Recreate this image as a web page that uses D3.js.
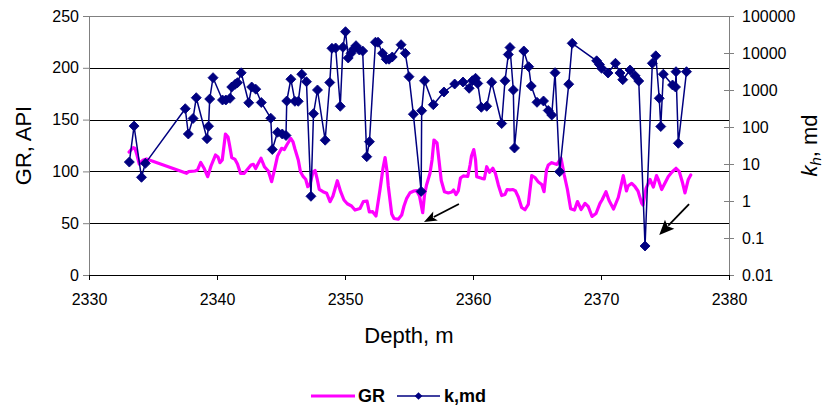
<!DOCTYPE html>
<html>
<head>
<meta charset="utf-8">
<script src="https://cdn.jsdelivr.net/npm/d3@7"></script>
<style>
  body { margin: 0; background: #fff; }
  svg { display: block; font-family: "Liberation Sans", Arial, sans-serif; }
</style>
</head>
<body>
<svg id="chart" width="836" height="408"></svg>
<script>
// Core permeability samples: depth (m) and horizontal permeability (md)
const kDepth = [
  2333.15, 2333.52, 2334.10, 2334.40, 2337.52, 2337.76, 2338.13, 2338.38, 2339.22, 2339.34,
  2339.43, 2339.69, 2340.43, 2340.69, 2341.02, 2341.15, 2341.42, 2341.60, 2341.89, 2342.48,
  2342.71, 2343.03, 2343.46, 2344.20, 2344.32, 2344.73, 2345.10, 2345.39, 2345.45, 2345.77,
  2346.09, 2346.35, 2346.62, 2346.99, 2347.34, 2347.54, 2347.85, 2348.45, 2348.81, 2348.98,
  2349.27, 2349.63, 2349.84, 2350.04, 2350.25, 2350.47, 2350.65, 2350.86, 2351.12, 2351.38,
  2351.70, 2351.91, 2352.38, 2352.58, 2352.93, 2353.22, 2353.44, 2353.69, 2354.38, 2354.71,
  2355.00, 2355.34, 2355.95, 2355.99, 2356.21, 2356.90, 2357.73, 2358.57, 2359.22, 2359.70,
  2359.95, 2360.20, 2360.37, 2360.65, 2361.07, 2361.46, 2362.24, 2362.50, 2362.76, 2362.89,
  2363.15, 2363.24, 2363.97, 2364.35, 2364.55, 2365.00, 2365.51, 2365.88, 2366.15, 2366.41,
  2366.77, 2367.48, 2367.75, 2369.66, 2369.88, 2370.05, 2370.55, 2371.13, 2371.48, 2371.70,
  2372.27, 2372.66, 2372.95, 2373.44, 2374.01, 2374.28, 2374.55, 2374.67, 2374.87, 2375.59,
  2375.82, 2375.86, 2376.04, 2376.68
];
const kValue = [
  11.3, 106, 4.37, 10.4, 312, 64.7, 170, 619, 48.3, 105,
  571, 2150, 537, 537, 597, 1205, 1426, 1575, 2917, 451,
  1205, 1051, 459, 173, 24.7, 71.9, 64.7, 58.9, 504, 1959,
  495, 495, 2673, 1676, 1.34, 229, 1000, 44, 1595, 13400,
  13650, 363, 14260, 37660, 7330, 9820, 12590, 15750, 12050, 11330,
  15.8, 40.1, 19590, 19590, 9820, 6800, 6800, 7800, 16760, 9820,
  2290, 222, 1.82, 276, 1773, 401, 883, 1452, 1645, 1112,
  1784, 2072, 1500, 341, 363, 1625, 124, 1773, 9100, 14080,
  1000, 27.1, 11330, 4265, 1282, 465, 504, 279, 211, 2935,
  6.19, 1435, 18290, 6150, 4890, 3857, 2880, 5270, 2880, 1898,
  3473, 2420, 1750, 0.0608, 5270, 8400, 597, 103, 2673, 1365,
  1205, 3124, 36.3, 3124
];

// Gamma-ray log: depth (m) and GR (API)
const grDepth = [
  2333.13, 2333.28, 2333.46, 2333.59, 2333.75, 2333.93, 2334.06, 2334.24, 2334.49, 2337.62,
  2337.77, 2338.28, 2338.48, 2338.73, 2338.98, 2339.27, 2339.53, 2339.88, 2340.08, 2340.23,
  2340.41, 2340.66, 2340.86, 2340.98, 2341.15, 2341.41, 2341.60, 2341.84, 2342.11, 2342.45,
  2342.66, 2342.84, 2343.02, 2343.20, 2343.44, 2343.71, 2344.01, 2344.27, 2344.49, 2344.73,
  2345.05, 2345.26, 2345.45, 2345.76, 2345.94, 2346.09, 2346.35, 2346.52, 2346.74, 2346.93,
  2347.09, 2347.27, 2347.50, 2347.66, 2347.81, 2347.99, 2348.28, 2348.57, 2348.83, 2349.06,
  2349.40, 2349.66, 2349.92, 2350.18, 2350.51, 2350.78, 2351.17, 2351.43, 2351.72, 2351.90,
  2352.16, 2352.42, 2352.73, 2352.97, 2353.13, 2353.27, 2353.38, 2353.65, 2353.83, 2354.16,
  2354.43, 2354.61, 2354.82, 2355.08, 2355.34, 2355.60, 2355.82, 2356.07, 2356.21, 2356.37,
  2356.64, 2356.80, 2356.95, 2357.19, 2357.34, 2357.52, 2357.77, 2358.07, 2358.34, 2358.48,
  2358.67, 2358.85, 2359.02, 2359.24, 2359.59, 2359.77, 2359.88, 2360.06, 2360.20, 2360.29,
  2360.68, 2360.88, 2361.07, 2361.29, 2361.55, 2361.74, 2361.98, 2362.24, 2362.50, 2362.66,
  2362.89, 2363.13, 2363.32, 2363.54, 2363.80, 2364.06, 2364.32, 2364.45, 2364.59, 2364.84,
  2365.08, 2365.37, 2365.55, 2365.74, 2365.88, 2366.15, 2366.33, 2366.56, 2366.88, 2367.13,
  2367.37, 2367.63, 2367.93, 2368.16, 2368.45, 2368.75, 2369.01, 2369.30, 2369.61, 2369.92,
  2370.08, 2370.39, 2370.63, 2370.98, 2371.35, 2371.56, 2371.74, 2371.99, 2372.11, 2372.40,
  2372.66, 2372.89, 2373.18, 2373.28, 2373.52, 2373.83, 2374.09, 2374.34, 2374.49, 2374.74,
  2374.96, 2375.26, 2375.55, 2375.86, 2376.12, 2376.38, 2376.56, 2376.82, 2377.01
];
const grValue = [
  118.7, 120.7, 122.9, 122.3, 115.8, 107.1, 109.1, 111.0, 112.0, 98.2,
  99.7, 100.4, 101.4, 108.6, 103.3, 94.9, 105.2, 115.8, 113.9, 108.4,
  111.0, 136.1, 133.2, 125.5, 113.4, 111.5, 107.1, 98.0, 98.0, 103.0,
  106.2, 106.9, 102.8, 107.1, 112.7, 104.3, 100.4, 90.1, 101.4, 114.9,
  122.3, 121.1, 125.5, 131.8, 128.4, 121.6, 111.0, 99.7, 94.9, 92.4,
  85.2, 87.8, 99.4, 100.9, 93.6, 82.7, 80.4, 78.9, 70.8, 76.3,
  91.0, 80.4, 72.4, 68.8, 66.6, 62.7, 64.2, 70.8, 71.4, 60.8,
  61.1, 57.0, 82.1, 103.3, 113.4, 101.4, 85.9, 58.9, 54.5, 53.8,
  57.9, 66.6, 74.0, 79.4, 80.9, 81.4, 76.3, 60.1, 77.2, 86.9,
  98.2, 111.0, 130.3, 127.4, 111.0, 91.2, 80.4, 79.2, 80.1, 82.1,
  77.7, 81.1, 93.6, 95.6, 95.1, 106.2, 114.9, 121.1, 111.0, 94.9,
  93.3, 92.7, 104.5, 99.1, 103.0, 98.5, 86.9, 76.7, 77.7, 82.5,
  82.1, 82.5, 81.1, 75.3, 65.2, 63.0, 68.1, 82.1, 96.0, 94.1,
  90.1, 87.4, 80.4, 101.4, 106.2, 108.4, 107.6, 106.7, 112.7, 96.5,
  83.0, 64.0, 62.7, 70.9, 63.2, 69.2, 65.9, 56.5, 59.4, 69.2,
  72.4, 80.4, 71.9, 63.7, 74.8, 85.9, 96.0, 81.1, 85.9, 88.5,
  85.2, 81.1, 69.2, 67.6, 83.7, 92.2, 84.9, 96.0, 91.7, 82.5,
  87.8, 95.1, 99.4, 103.0, 99.7, 88.5, 79.2, 92.2, 96.5
];

// Axis ticks
const depthTicks = [2330, 2340, 2350, 2360, 2370, 2380];
const grTicks = [0, 50, 100, 150, 200, 250];
const kTicks = [0.01, 0.1, 1, 10, 100, 1000, 10000, 100000];
const kTickLabels = ["0.01", "0.1", "1", "10", "100", "1000", "10000", "100000"];

// Annotation arrows pointing at the low-permeability samples (depth, GR units)
const arrowFrom = [[2358.9, 68.5], [2376.88, 68.5]];
const arrowTo = [[2356.17, 51.2], [2374.55, 38.6]];

const GR_COLOR = "#ff00ff";
const K_COLOR = "#000080";

const svg = d3.select("#chart");
const plot = { left: 89, right: 729, top: 16, bottom: 275 };

const x = d3.scaleLinear().domain([2330, 2380]).range([plot.left, plot.right]);
const yL = d3.scaleLinear().domain([0, 250]).range([plot.bottom, plot.top]);
const yR = d3.scaleLog().domain([0.01, 100000]).range([plot.bottom, plot.top]);

// Horizontal gridlines at the GR ticks
svg.append("g")
  .selectAll("line")
  .data(grTicks)
  .join("line")
  .attr("x1", plot.left)
  .attr("x2", plot.right)
  .attr("y1", d => Math.round(yL(d)) + 0.5)
  .attr("y2", d => Math.round(yL(d)) + 0.5)
  .attr("stroke", d => d === 250 ? "#808080" : "#000")
  .attr("stroke-width", 1);

// Left axis (GR)
const leftAxis = svg.append("g")
  .attr("transform", `translate(${plot.left},0)`)
  .call(d3.axisLeft(yL).tickValues(grTicks).tickSize(6).tickPadding(4));
leftAxis.select(".domain").attr("stroke", "#808080");
leftAxis.selectAll(".tick line").attr("stroke", "#808080");
leftAxis.selectAll(".tick text")
  .attr("font-size", 16).attr("fill", "#000")
  .style("font-family", '"Liberation Sans", Arial, sans-serif');

// Right axis (permeability, log scale)
const rightAxis = svg.append("g")
  .attr("transform", `translate(${plot.right},0)`)
  .call(d3.axisRight(yR).tickValues(kTicks).tickFormat((d, i) => kTickLabels[i]).tickSize(5).tickPadding(8));
rightAxis.select(".domain").attr("stroke", "#808080");
rightAxis.selectAll(".tick line").attr("x1", -5).attr("stroke", "#808080");
rightAxis.selectAll(".tick text")
  .attr("font-size", 16).attr("fill", "#000")
  .style("font-family", '"Liberation Sans", Arial, sans-serif');

// Bottom axis (depth)
const bottomAxis = svg.append("g")
  .attr("transform", `translate(0,${plot.bottom})`)
  .call(d3.axisBottom(x).tickValues(depthTicks).tickFormat(d3.format("d")).tickSize(5).tickPadding(14));
bottomAxis.select(".domain").attr("stroke", "#000");
bottomAxis.selectAll(".tick line").attr("stroke", "#000");
bottomAxis.selectAll(".tick text")
  .attr("font-size", 16).attr("fill", "#000")
  .style("font-family", '"Liberation Sans", Arial, sans-serif');

// GR curve
const grLine = d3.line()
  .x((d, i) => x(grDepth[i]))
  .y((d, i) => yL(grValue[i]));
svg.append("path")
  .datum(grValue)
  .attr("d", grLine)
  .attr("fill", "none")
  .attr("stroke", GR_COLOR)
  .attr("stroke-width", 3.2)
  .attr("stroke-linejoin", "round")
  .attr("stroke-linecap", "round");

// Permeability series: line with diamond markers
const kLine = d3.line()
  .x((d, i) => x(kDepth[i]))
  .y((d, i) => yR(kValue[i]));
svg.append("path")
  .datum(kValue)
  .attr("d", kLine)
  .attr("fill", "none")
  .attr("stroke", K_COLOR)
  .attr("stroke-width", 1.5)
  .attr("stroke-linejoin", "round");

const diamond = d3.symbol().type(d3.symbolSquare).size(50);
svg.append("g")
  .selectAll("path")
  .data(kValue)
  .join("path")
  .attr("d", diamond)
  .attr("transform", (d, i) => `translate(${x(kDepth[i])},${yR(d)}) rotate(45)`)
  .attr("fill", K_COLOR)
  .attr("stroke", K_COLOR)
  .attr("stroke-width", 0.8);

// Arrows
arrowFrom.forEach((f, i) => {
  const t = arrowTo[i];
  const x0 = x(f[0]), y0 = yL(f[1]);
  const x1 = x(t[0]), y1 = yL(t[1]);
  const dx = x1 - x0, dy = y1 - y0;
  const len = Math.hypot(dx, dy);
  const ux = dx / len, uy = dy / len;
  const headLen = i === 0 ? 13 : 15;
  const headHalf = i === 0 ? 5 : 6.5;
  const bx = x1 - ux * headLen, by = y1 - uy * headLen;
  svg.append("line")
    .attr("x1", x0).attr("y1", y0)
    .attr("x2", bx + ux * 2).attr("y2", by + uy * 2)
    .attr("stroke", "#000").attr("stroke-width", 1.8);
  svg.append("path")
    .attr("d", `M${x1},${y1}L${bx - uy * headHalf},${by + ux * headHalf}L${bx + ux * 3},${by + uy * 3}L${bx + uy * headHalf},${by - ux * headHalf}Z`)
    .attr("fill", "#000");
});

// Axis titles
svg.append("text")
  .attr("transform", `translate(31,${(plot.top + plot.bottom) / 2}) rotate(-90)`)
  .attr("text-anchor", "middle")
  .attr("font-size", 22)
  .text("GR, API");

const kTitle = svg.append("text")
  .attr("transform", `translate(817,${(plot.top + plot.bottom) / 2}) rotate(-90)`)
  .attr("text-anchor", "middle")
  .attr("font-size", 22);
kTitle.append("tspan").attr("font-style", "italic").text("k");
kTitle.append("tspan").attr("font-style", "italic").attr("font-size", 15).attr("dy", 4).text("h");
kTitle.append("tspan").attr("dy", -4).text(", md");

svg.append("text")
  .attr("x", (plot.left + plot.right) / 2)
  .attr("y", 343)
  .attr("text-anchor", "middle")
  .attr("font-size", 22)
  .text("Depth, m");

// Legend
const legend = svg.append("g").attr("font-size", 18).attr("font-weight", "bold");
const ly = 396;
legend.append("line")
  .attr("x1", 311).attr("x2", 355).attr("y1", ly).attr("y2", ly)
  .attr("stroke", GR_COLOR).attr("stroke-width", 3);
legend.append("text").attr("x", 358).attr("y", ly).attr("dy", "0.35em").text("GR");
legend.append("line")
  .attr("x1", 397).attr("x2", 440).attr("y1", ly).attr("y2", ly)
  .attr("stroke", K_COLOR).attr("stroke-width", 1.5);
legend.append("path")
  .attr("d", d3.symbol().type(d3.symbolSquare).size(30))
  .attr("transform", `translate(418.5,${ly}) rotate(45)`)
  .attr("fill", K_COLOR);
legend.append("text").attr("x", 444).attr("y", ly).attr("dy", "0.35em").text("k,md");
</script>
</body>
</html>
